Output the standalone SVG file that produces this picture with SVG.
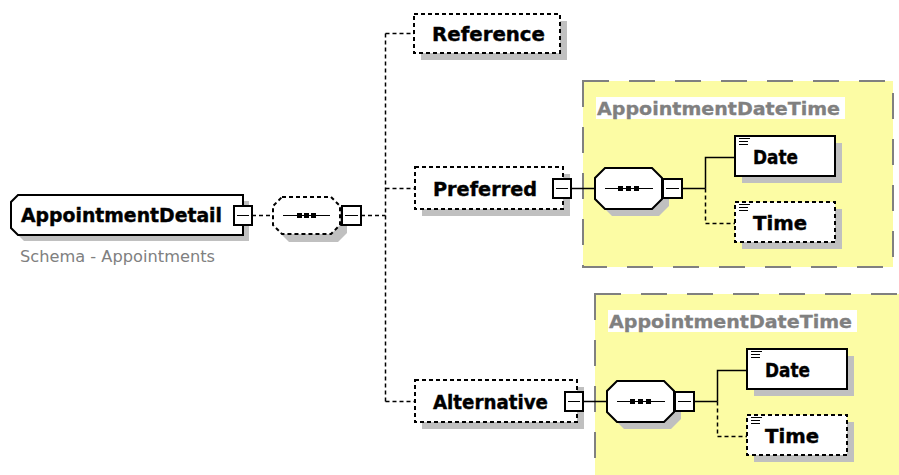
<svg xmlns="http://www.w3.org/2000/svg" width="899" height="475" viewBox="0 0 899 475">
<style>
.sh{fill:#c0c0c0;stroke:none}
.box{fill:#ffffff;stroke:#000000;stroke-width:2}
.opt{stroke-dasharray:4 3}
.lbl{font-family:"DejaVu Sans",sans-serif;font-weight:bold;font-size:19px;fill:#000000;stroke:#000000;stroke-width:0.4}
.grp{fill:#fcfca4;stroke:#808080;stroke-width:2;stroke-dasharray:26 20}
.gt{font-family:"DejaVu Sans",sans-serif;font-weight:bold;font-size:18px;fill:#808080;stroke:#808080;stroke-width:0.3}
.ln{fill:none;stroke:#000000;stroke-width:1.5}
.dl{stroke-dasharray:4 3}
.mb{fill:#ffffff;stroke:#000000;stroke-width:2}
.ml{fill:none;stroke:#000000;stroke-width:1}
.dot{fill:#000000}
.sub{font-family:"DejaVu Sans",sans-serif;font-size:15px;fill:#808080}
</style>

<!-- group boxes (backgrounds) -->
<g id="group-AppointmentDateTime-1">
<rect class="grp" x="583" y="81" width="310" height="186"/>
<rect x="596" y="97" width="249" height="22" fill="#ffffff"/>
<text class="gt" x="597" y="115" textLength="243" lengthAdjust="spacingAndGlyphs">AppointmentDateTime</text>
</g>
<g id="group-AppointmentDateTime-2">
<rect class="grp" x="595" y="294" width="310" height="186"/>
<rect x="608" y="310" width="249" height="22" fill="#ffffff"/>
<text class="gt" x="609" y="328" textLength="243" lengthAdjust="spacingAndGlyphs">AppointmentDateTime</text>
</g>

<!-- connectors -->
<g id="connectors">
<line class="ln dl" x1="252" y1="215.5" x2="273" y2="215.5"/>
<line class="ln dl" x1="361" y1="215.5" x2="385.5" y2="215.5"/>
<line class="ln dl" x1="385.5" y1="33.5" x2="385.5" y2="401.5"/>
<line class="ln dl" x1="385.5" y1="33.5" x2="414" y2="33.5"/>
<line class="ln dl" x1="385.5" y1="188.5" x2="415" y2="188.5"/>
<line class="ln dl" x1="385.5" y1="401.5" x2="415" y2="401.5"/>
<line class="ln" x1="571" y1="188.5" x2="595" y2="188.5"/>
<line class="ln" x1="682" y1="188.5" x2="705.5" y2="188.5"/>
<polyline class="ln" points="705.5,188.5 705.5,157.5 735,157.5"/>
<polyline class="ln dl" points="705.5,188.5 705.5,223.5 735,223.5"/>
<line class="ln" x1="583" y1="401.5" x2="607" y2="401.5"/>
<line class="ln" x1="694" y1="401.5" x2="717.5" y2="401.5"/>
<polyline class="ln" points="717.5,401.5 717.5,370.5 747,370.5"/>
<polyline class="ln dl" points="717.5,401.5 717.5,436.5 747,436.5"/>
</g>

<!-- AppointmentDetail -->
<g id="AppointmentDetail">
<path class="sh" d="M24,201 H249 V241 H24 L17,234 V208 Z"/>
<path class="box" d="M18,195 H243 V235 H18 L11,228 V202 Z"/>
<text class="lbl" x="21" y="222" textLength="201" lengthAdjust="spacingAndGlyphs">AppointmentDetail</text>
<rect class="mb" x="234" y="206" width="18" height="19"/>
<line class="ml" x1="237" y1="215.5" x2="249" y2="215.5"/>
<text class="sub" x="20" y="262" textLength="195" lengthAdjust="spacingAndGlyphs">Schema - Appointments</text>
</g>

<!-- outer sequence -->
<g id="sequence-main">
<path class="sh" d="M289,204 H338 L347,213 V233 L338,242 H289 L280,233 V213 Z"/>
<path class="box opt" d="M282,197 H331 L340,206 V225 L331,234 H282 L273,225 V206 Z"/>
<line class="ml" x1="283" y1="215.5" x2="330" y2="215.5"/>
<rect class="dot" x="297" y="213" width="5" height="5"/>
<rect class="dot" x="304" y="213" width="5" height="5"/>
<rect class="dot" x="311" y="213" width="5" height="5"/>
<rect class="mb" x="342" y="206" width="19" height="19"/>
<line class="ml" x1="345" y1="215.5" x2="358" y2="215.5"/>
</g>

<!-- Reference -->
<g id="Reference">
<rect class="sh" x="421" y="21" width="146" height="39"/>
<rect class="box opt" x="414" y="14" width="146" height="39"/>
<text class="lbl" x="432" y="41" textLength="113" lengthAdjust="spacingAndGlyphs">Reference</text>
</g>

<!-- Preferred -->
<g id="Preferred">
<rect class="sh" x="422" y="174" width="148" height="42"/>
<rect class="box opt" x="415" y="167" width="148" height="42"/>
<text class="lbl" x="433" y="196" textLength="104" lengthAdjust="spacingAndGlyphs">Preferred</text>
<rect class="mb" x="553" y="179" width="18" height="19"/>
<line class="ml" x1="556" y1="188.5" x2="568" y2="188.5"/>
</g>

<!-- Alternative -->
<g id="Alternative">
<rect class="sh" x="422" y="387" width="162" height="42"/>
<rect class="box opt" x="415" y="380" width="162" height="42"/>
<text class="lbl" x="433" y="409" textLength="115" lengthAdjust="spacingAndGlyphs">Alternative</text>
<rect class="mb" x="565" y="392" width="18" height="19"/>
<line class="ml" x1="568" y1="401.5" x2="580" y2="401.5"/>
</g>

<!-- inner sequence 1 -->
<g id="sequence-preferred">
<path class="sh" d="M612,175 H659 L669,185 V206 L659,216 H612 L602,206 V185 Z"/>
<path class="box" d="M605,168 H652 L662,178 V199 L652,209 H605 L595,199 V178 Z"/>
<line class="ml" x1="605" y1="188.5" x2="653" y2="188.5"/>
<rect class="dot" x="618" y="186" width="5" height="5"/>
<rect class="dot" x="626" y="186" width="5" height="5"/>
<rect class="dot" x="634" y="186" width="5" height="5"/>
<rect class="mb" x="663" y="179" width="19" height="19"/>
<line class="ml" x1="666" y1="188.5" x2="679" y2="188.5"/>
</g>

<!-- Date 1 -->
<g id="Date-preferred">
<rect class="sh" x="742" y="143" width="100" height="40"/>
<rect class="box" x="735" y="136" width="100" height="40"/>
<line class="ml" x1="739" y1="138.5" x2="750" y2="138.5"/>
<line class="ml" x1="739" y1="141.5" x2="748" y2="141.5"/>
<line class="ml" x1="739" y1="144.5" x2="748" y2="144.5"/>
<text class="lbl" x="753" y="164" textLength="45" lengthAdjust="spacingAndGlyphs">Date</text>
</g>

<!-- Time 1 -->
<g id="Time-preferred">
<rect class="sh" x="742" y="209" width="100" height="40"/>
<rect class="box opt" x="735" y="202" width="100" height="40"/>
<line class="ml" x1="739" y1="204.5" x2="750" y2="204.5"/>
<line class="ml" x1="739" y1="207.5" x2="748" y2="207.5"/>
<line class="ml" x1="739" y1="210.5" x2="748" y2="210.5"/>
<text class="lbl" x="753" y="230" textLength="54" lengthAdjust="spacingAndGlyphs">Time</text>
</g>

<!-- inner sequence 2 -->
<g id="sequence-alternative">
<path class="sh" d="M624,388 H671 L681,398 V419 L671,429 H624 L614,419 V398 Z"/>
<path class="box" d="M617,381 H664 L674,391 V412 L664,422 H617 L607,412 V391 Z"/>
<line class="ml" x1="617" y1="401.5" x2="665" y2="401.5"/>
<rect class="dot" x="630" y="399" width="5" height="5"/>
<rect class="dot" x="638" y="399" width="5" height="5"/>
<rect class="dot" x="646" y="399" width="5" height="5"/>
<rect class="mb" x="675" y="392" width="19" height="19"/>
<line class="ml" x1="678" y1="401.5" x2="691" y2="401.5"/>
</g>

<!-- Date 2 -->
<g id="Date-alternative">
<rect class="sh" x="754" y="356" width="100" height="40"/>
<rect class="box" x="747" y="349" width="100" height="40"/>
<line class="ml" x1="751" y1="351.5" x2="762" y2="351.5"/>
<line class="ml" x1="751" y1="354.5" x2="760" y2="354.5"/>
<line class="ml" x1="751" y1="357.5" x2="760" y2="357.5"/>
<text class="lbl" x="765" y="377" textLength="45" lengthAdjust="spacingAndGlyphs">Date</text>
</g>

<!-- Time 2 -->
<g id="Time-alternative">
<rect class="sh" x="754" y="422" width="100" height="40"/>
<rect class="box opt" x="747" y="415" width="100" height="40"/>
<line class="ml" x1="751" y1="417.5" x2="762" y2="417.5"/>
<line class="ml" x1="751" y1="420.5" x2="760" y2="420.5"/>
<line class="ml" x1="751" y1="423.5" x2="760" y2="423.5"/>
<text class="lbl" x="765" y="443" textLength="54" lengthAdjust="spacingAndGlyphs">Time</text>
</g>
</svg>
